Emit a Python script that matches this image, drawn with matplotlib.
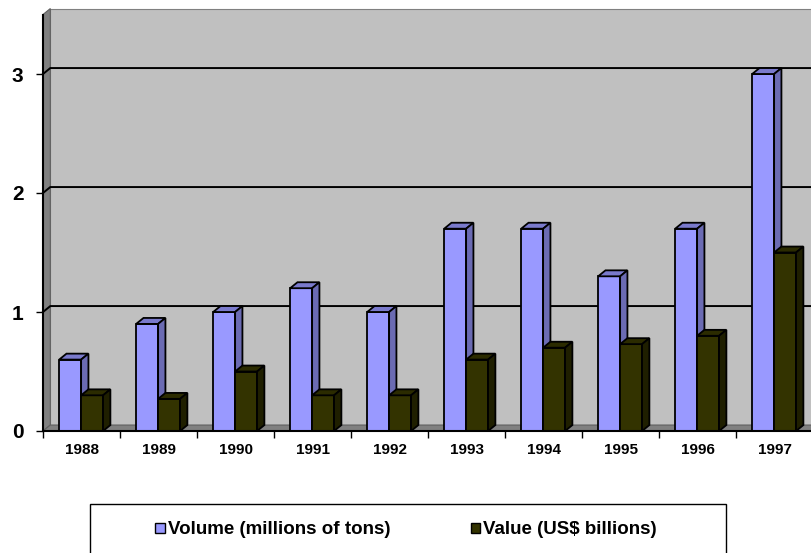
import matplotlib.pyplot as plt
from matplotlib.patches import Polygon, Rectangle, Patch

plt.rcParams['font.family'] = ['Liberation Sans', 'DejaVu Sans']
plt.rcParams['font.weight'] = 'bold'

# datos
years = ['1988', '1989', '1990', '1991', '1992', '1993', '1994', '1995', '1996', '1997']
volume = [0.6, 0.9, 1.0, 1.2, 1.0, 1.7, 1.7, 1.3, 1.7, 3.0]
value = [0.3, 0.27, 0.5, 0.3, 0.3, 0.6, 0.7, 0.73, 0.8, 1.5]
series_names = ['Volume (millions of tons)', 'Value (US$ billions)']

ymax = 3.5
dx, dy = 0.095, 0.05   # profundidad "3D"
bw = 0.285

fig = plt.figure(figsize=(8.11, 5.53), dpi=100)
ax = fig.add_axes([43 / 811, 122 / 553, 770 / 811, ymax * 119 / 553])
n = len(years)
ax.set_xlim(0, n)
ax.set_ylim(0, ymax)


def poly(pts, fc, z, lw=1.3, ec='black'):
    ax.add_patch(Polygon(pts, closed=True, facecolor=fc, edgecolor=ec,
                         linewidth=lw, zorder=z, clip_on=False))


# paredes
poly([(dx, dy), (n + dx, dy), (n + dx, ymax + dy), (dx, ymax + dy)], '#c0c0c0', 0, 0.8, '#808080')
poly([(0, 0), (dx, dy), (dx, ymax + dy), (0, ymax)], '#808080', 0.5, 0.8, '#606060')
poly([(0, 0), (n, 0), (n + dx, dy), (dx, dy)], '#808080', 0.5, 0.8, '#606060')

# cuadricula
for k in range(1, 4):
    ax.plot([0, dx, n + dx], [k, k + dy, k + dy], color='black', lw=1.4, zorder=1, clip_on=False)


def bar3d(x0, h, front, top, side):
    poly([(x0, 0), (x0 + bw, 0), (x0 + bw, h), (x0, h)], front, 3)
    poly([(x0, h), (x0 + bw, h), (x0 + bw + dx, h + dy), (x0 + dx, h + dy)], top, 3)
    poly([(x0 + bw, 0), (x0 + bw + dx, dy), (x0 + bw + dx, h + dy), (x0 + bw, h)], side, 3)


for i in range(n):
    bar3d(i + 0.21, volume[i], '#9999ff', '#7a7acc', '#6b6bb3')
    bar3d(i + 0.21 + bw, value[i], '#333300', '#2b2b00', '#1f1f00')

for s in ['top', 'right']:
    ax.spines[s].set_visible(False)
ax.spines['left'].set_linewidth(1.5)
ax.spines['bottom'].set_linewidth(1.5)
ax.spines['left'].set_zorder(5)
ax.spines['bottom'].set_zorder(5)

ax.set_yticks([0, 1, 2, 3])
ax.set_yticklabels(['0', '1', '2', '3'], fontsize=15, fontweight='bold')
ax.tick_params(axis='y', length=5, width=1, pad=9)
ax.set_xticks([i + 0.5 for i in range(n)])
ax.set_xticklabels(years, fontsize=11, fontweight='bold')
ax.set_xticks(range(n + 1), minor=True)
ax.tick_params(axis='x', which='major', length=0, pad=9)
ax.tick_params(axis='x', which='minor', length=5, width=1)

# leyenda
fig.patches.append(Rectangle((90 / 811, -0.01), 636 / 811, (553 - 504) / 553 + 0.01,
                             transform=fig.transFigure, facecolor='white',
                             edgecolor='black', linewidth=1, zorder=0))
handles = [Patch(facecolor='#9999ff', edgecolor='black', label=series_names[0]),
           Patch(facecolor='#333300', edgecolor='black', label=series_names[1])]
fig.legend(handles=handles, loc='center', bbox_to_anchor=(406 / 811, 23 / 553), ncol=2,
           frameon=False, fontsize=13.5, handlelength=0.5, handleheight=0.5,
           handletextpad=0.15, columnspacing=4.3)

plt.savefig('out.png', dpi=100)
